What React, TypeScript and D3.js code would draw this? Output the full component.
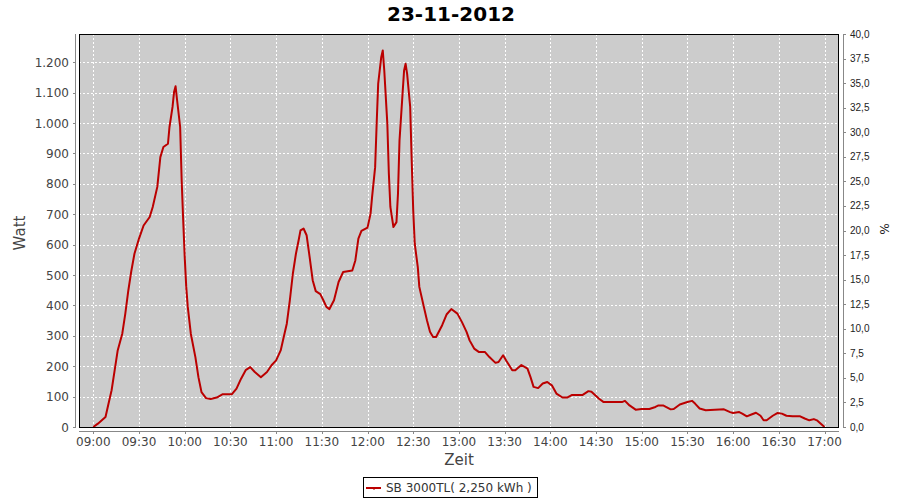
import React from "react";
import * as d3 from "d3";

const title = "23-11-2012";
const seriesName = "SB 3000TL( 2,250 kWh )";
const times = [
  "09:00","09:03","09:08","09:10","09:12","09:14","09:16","09:19","09:21","09:23","09:25","09:27","09:30","09:33","09:37","09:39","09:42","09:44","09:46","09:49","09:50","09:52","09:53","09:54","09:55","09:57","09:58","09:59","10:00","10:01","10:02","10:04","10:07","10:09","10:11","10:14","10:17","10:21","10:25","10:31","10:34","10:37","10:40","10:43","10:46","10:50","10:54","10:57","11:00","11:03","11:05","11:07","11:09","11:11","11:13","11:15","11:16","11:18","11:20","11:22","11:24","11:26","11:29","11:31","11:33","11:35","11:38","11:41","11:44","11:50","11:52","11:54","11:56","12:00","12:02","12:03","12:05","12:06","12:07","12:09","12:10","12:11","12:13","12:14","12:15","12:17","12:19","12:20","12:21","12:23","12:24","12:25","12:26","12:28","12:29","12:30","12:31","12:33","12:34","12:37","12:39","12:41","12:43","12:45","12:49","12:52","12:55","12:59","13:02","13:05","13:07","13:10","13:13","13:17","13:20","13:24","13:26","13:29","13:31","13:35","13:37","13:41","13:45","13:47","13:49","13:52","13:55","13:58","14:01","14:04","14:08","14:11","14:14","14:21","14:25","14:27","14:32","14:35","14:47","14:49","14:52","14:56","15:00","15:05","15:09","15:11","15:14","15:19","15:21","15:25","15:30","15:33","15:35","15:38","15:42","15:54","15:58","16:00","16:04","16:06","16:09","16:12","16:15","16:18","16:20","16:22","16:26","16:29","16:32","16:35","16:39","16:44","16:47","16:50","16:53","16:55","16:57","17:00"
];
const watts = [
  0,11,33,77,121,186,252,307,373,450,515,570,620,663,691,724,790,888,921,932,987,1053,1102,1121,1075,987,811,680,559,461,395,307,230,164,115,95,92,97,108,108,126,159,187,197,181,164,181,203,219,252,296,340,417,505,570,620,647,653,631,559,483,447,437,417,395,388,417,477,510,515,548,620,645,656,702,757,855,998,1130,1217,1239,1173,998,834,724,658,674,768,943,1097,1173,1195,1162,1053,877,713,603,526,461,395,351,313,296,296,335,371,388,373,345,313,285,258,247,247,230,211,214,236,219,187,187,204,192,164,132,128,143,148,137,110,97,97,105,105,118,116,93,82,82,86,71,57,59,59,66,71,71,58,59,74,82,86,77,61,55,58,49,46,49,44,35,41,47,37,22,22,37,46,44,37,35,35,28,22,26,22,13,0
];
const xTickLabels = ["09:00","09:30","10:00","10:30","11:00","11:30","12:00","12:30","13:00","13:30","14:00","14:30","15:00","15:30","16:00","16:30","17:00"];
const leftTicks = [0,100,200,300,400,500,600,700,800,900,1000,1100,1200];
const rightTicks = [0,2.5,5,7.5,10,12.5,15,17.5,20,22.5,25,27.5,30,32.5,35,37.5,40];

const toMin = (s: string) => { const [h, m] = s.split(":").map(Number); return h * 60 + m; };
const fmtDE = (v: number) => v.toLocaleString("de-DE");

export default function App() {
  const L = 79, R = 839, T = 34, B = 427;
  const x = d3.scaleLinear().domain([530.6, 1029.5]).range([L, R]);
  const y = d3.scaleLinear().domain([0, 1293]).range([B, T]);
  const yr = d3.scaleLinear().domain([0, 40]).range([B, T]);
  const data = times.map((t, i) => [toMin(t), watts[i]] as [number, number]);
  const line = d3.line<[number, number]>().x(d => x(d[0])).y(d => y(d[1]));
  const font = "'DejaVu Sans', sans-serif";
  return (
    <div style={{ position: "absolute", left: 0, top: 0 }}>
      <svg width={900} height={500} style={{ display: "block", background: "#fff" }}>
        <text x={451} y={21} textAnchor="middle" fontFamily={font} fontWeight="bold" fontSize={20} fill="#000">{title}</text>
        <rect x={L} y={T} width={R - L} height={B - T} fill="#cccccc" />
        {xTickLabels.map(t => (
          <line key={"gx" + t} x1={Math.round(x(toMin(t))) + 0.5} x2={Math.round(x(toMin(t))) + 0.5} y1={T} y2={B} stroke="#fff" strokeDasharray="2,2" />
        ))}
        {leftTicks.map(v => (
          <line key={"gy" + v} x1={L} x2={R} y1={Math.round(y(v)) + 0.5} y2={Math.round(y(v)) + 0.5} stroke="#fff" strokeDasharray="2,2" />
        ))}
        <path d={line(data) || ""} fill="none" stroke="#bb0000" strokeWidth={2} strokeLinejoin="round" />
        <rect x={L + 0.5} y={T + 0.5} width={R - L - 1} height={B - T} fill="none" stroke="#000" strokeWidth={1} />
        {/* left axis */}
        <line x1={75.5} x2={75.5} y1={T} y2={B} stroke="#888" />
        {leftTicks.map(v => (
          <g key={"ly" + v}>
            <line x1={73} x2={76} y1={Math.round(y(v)) + 0.5} y2={Math.round(y(v)) + 0.5} stroke="#888" />
            <text x={69} y={y(v) + 4.5} textAnchor="end" fontFamily={font} fontSize={12} fill="#444">{fmtDE(v)}</text>
          </g>
        ))}
        {/* bottom axis */}
        <line x1={L} x2={R} y1={431.5} y2={431.5} stroke="#888" />
        {xTickLabels.map(t => (
          <g key={"bx" + t}>
            <line x1={Math.round(x(toMin(t))) + 0.5} x2={Math.round(x(toMin(t))) + 0.5} y1={431} y2={434} stroke="#888" />
            <text x={x(toMin(t))} y={446} textAnchor="middle" fontFamily={font} fontSize={12} fill="#444">{t}</text>
          </g>
        ))}
        {/* right axis */}
        <line x1={843.5} x2={843.5} y1={T} y2={B} stroke="#888" />
        {rightTicks.map(v => (
          <g key={"ry" + v}>
            <line x1={843} x2={846} y1={Math.round(yr(v)) + 0.5} y2={Math.round(yr(v)) + 0.5} stroke="#888" />
            <text x={850} y={yr(v) + 3.5} fontFamily="'Liberation Sans', sans-serif" fontSize={10} fill="#222">{v.toFixed(1).replace(".", ",")}</text>
          </g>
        ))}
        <text transform="translate(25,233) rotate(-90)" textAnchor="middle" fontFamily={font} fontSize={15} fill="#444">Watt</text>
        <text x={459} y={465} textAnchor="middle" fontFamily={font} fontSize={15} fill="#444">Zeit</text>
        <text transform="translate(880,229) rotate(90)" textAnchor="middle" fontFamily={font} fontSize={12} fill="#222">%</text>
        {/* legend */}
        <rect x={363.5} y={477.5} width={174} height={20} fill="#fff" stroke="#000" />
        <line x1={366} x2={381} y1={488} y2={488} stroke="#bb0000" strokeWidth={2} />
        <line x1={374} x2={374} y1={488} y2={490} stroke="#bb0000" strokeWidth={1} />
        <text x={386} y={492} fontFamily={font} fontSize={12} fill="#333">{seriesName}</text>
      </svg>
    </div>
  );
}
